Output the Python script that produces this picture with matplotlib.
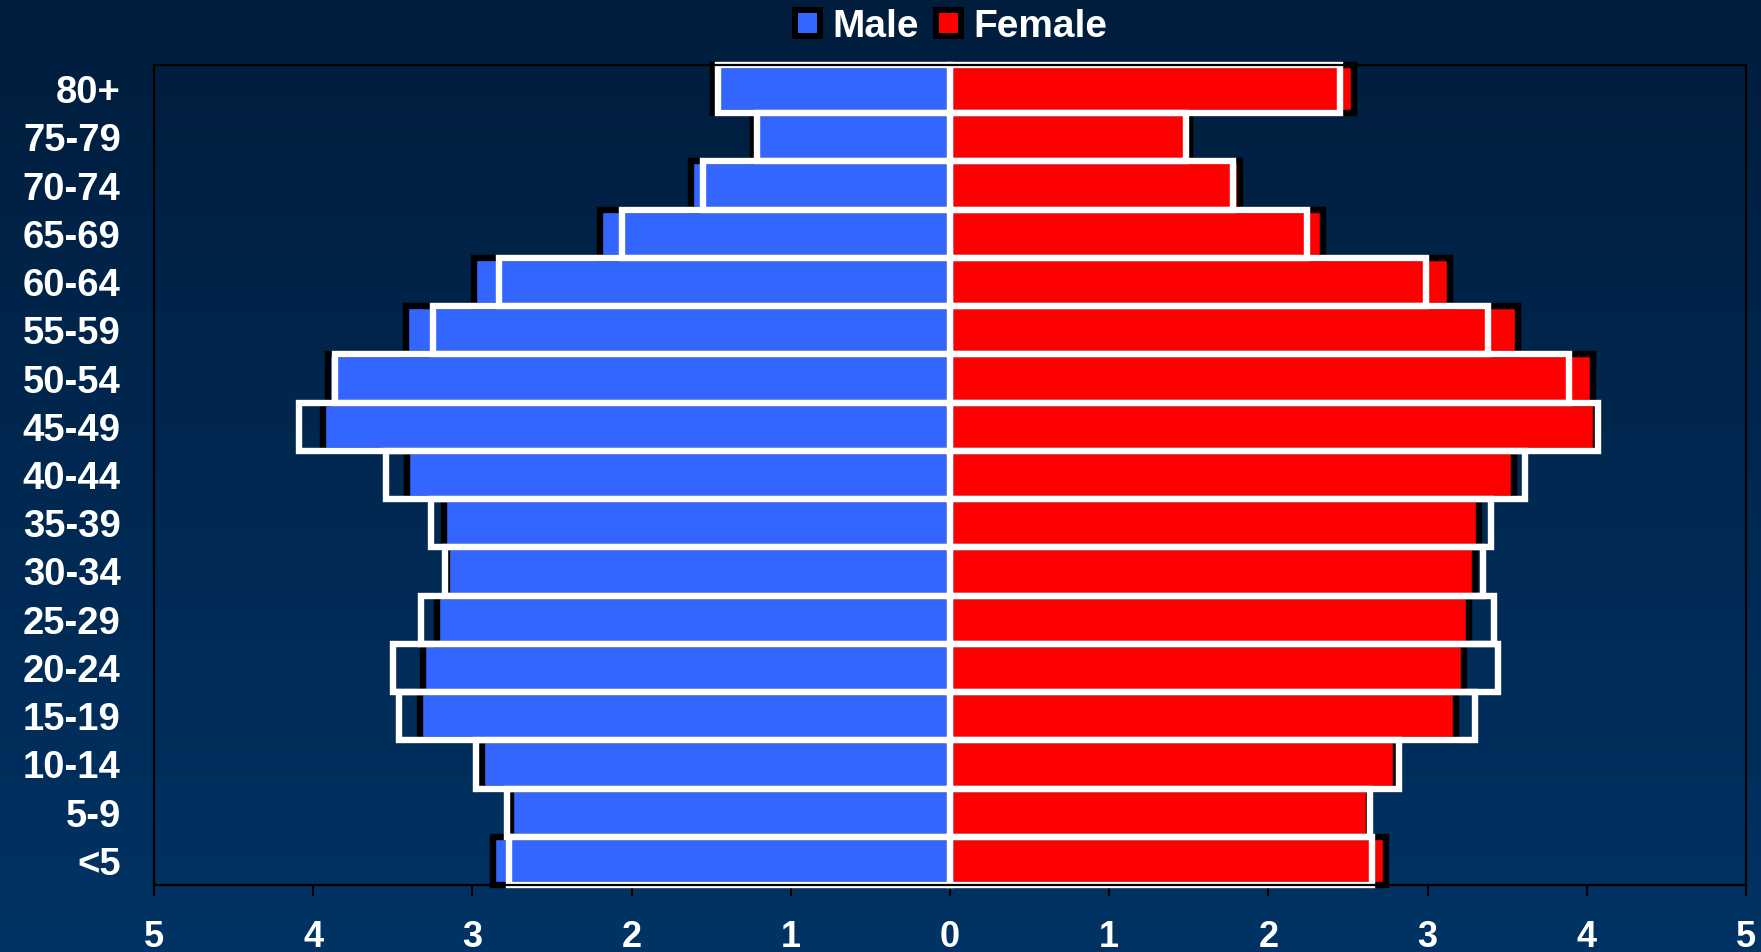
import matplotlib
matplotlib.use("Agg")
import matplotlib.pyplot as plt
import numpy as np
from matplotlib.patches import Patch

plt.rcParams['font.family'] = ['Liberation Sans', 'DejaVu Sans']
plt.rcParams['font.weight'] = 'bold'

# age groups, bottom to top
ages = ['<5', '5-9', '10-14', '15-19', '20-24', '25-29', '30-34', '35-39',
        '40-44', '45-49', '50-54', '55-59', '60-64', '65-69', '70-74', '75-79', '80+']

# filled bars (percent of population)
male = [2.87, 2.76, 2.94, 3.33, 3.31, 3.22, 3.16, 3.18,
        3.41, 3.94, 3.91, 3.42, 2.99, 2.20, 1.63, 1.24, 1.49]
female = [2.74, 2.635, 2.80, 3.18, 3.23, 3.26, 3.30, 3.32,
          3.54, 4.055, 4.04, 3.57, 3.14, 2.34, 1.82, 1.51, 2.54]

# outlined comparison bars
male_cmp = [2.77, 2.78, 2.98, 3.46, 3.50, 3.32, 3.17, 3.26,
            3.54, 4.09, 3.86, 3.25, 2.83, 2.06, 1.55, 1.21, 1.46]
female_cmp = [2.65, 2.64, 2.82, 3.30, 3.44, 3.42, 3.35, 3.40,
              3.61, 4.07, 3.89, 3.38, 2.99, 2.24, 1.78, 1.48, 2.45]

xticks = [-5, -4, -3, -2, -1, 0, 1, 2, 3, 4, 5]

fig = plt.figure(figsize=(17.61, 9.52), dpi=100)

# gradient background
bg = fig.add_axes([0, 0, 1, 1], zorder=-10)
top = np.array([0x00, 0x1d, 0x3d]) / 255
bot = np.array([0x00, 0x33, 0x64]) / 255
t = np.linspace(0, 1, 256)[:, None, None]
grad = top + (bot - top) * t
bg.imshow(np.repeat(grad, 2, axis=1), aspect='auto', extent=[0, 1, 0, 1])
bg.axis('off')

ax = fig.add_axes([154 / 1761, 1 - 885 / 952, (1746 - 154) / 1761, (885 - 65) / 952])
ax.set_facecolor('none')

y = np.arange(len(ages))
lw = 4.6
ax.barh(y, -np.array(male), height=1.0, color='#3366FF', edgecolor='black',
        linewidth=lw, clip_on=False, zorder=2)
ax.barh(y, female, height=1.0, color='#FF0000', edgecolor='black',
        linewidth=lw, clip_on=False, zorder=2)
ax.barh(y, -np.array(male_cmp), height=1.0, fill=False, edgecolor='white',
        linewidth=lw, clip_on=False, zorder=3)
ax.barh(y, female_cmp, height=1.0, fill=False, edgecolor='white',
        linewidth=lw, clip_on=False, zorder=3)

ax.set_xlim(-5, 5)
ax.set_ylim(-0.5, len(ages) - 0.5)
ax.set_yticks(y)
ax.set_yticklabels(ages)
ax.set_xticks(xticks)
ax.set_xticklabels([str(abs(v)) for v in xticks])

ax.tick_params(axis='y', length=0, pad=24, labelsize=27.5, labelcolor='white')
ax.tick_params(axis='x', length=8, width=1.5, color='black', direction='out',
               pad=17, labelsize=26, labelcolor='white')
for s in ax.spines.values():
    s.set_color('black')
    s.set_linewidth(1.6)
    s.set_zorder(4)

handles = [Patch(facecolor='#3366FF', edgecolor='black', linewidth=4.3, label='Male'),
           Patch(facecolor='#FF0000', edgecolor='black', linewidth=4.3, label='Female')]
fig.legend(handles=handles, loc='center', bbox_to_anchor=(0.54, 0.972), ncol=2,
           frameon=False, fontsize=28, labelcolor='white', handlelength=0.65,
           handleheight=0.65, handletextpad=0.3, columnspacing=0.45)

fig.savefig('out.png', dpi=100)
